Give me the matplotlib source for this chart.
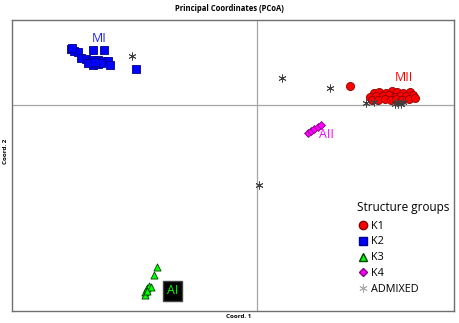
import matplotlib
matplotlib.use("Agg")
import matplotlib.pyplot as plt
from matplotlib.lines import Line2D

plt.rcParams['font.family'] = ['Open Sans', 'DejaVu Sans']

# K2 (MI) - blue squares
k2_x = [-0.379, -0.373, -0.366, -0.377, -0.335, -0.312, -0.359, -0.349, -0.342, -0.335,
        -0.325, -0.315, -0.305, -0.301, -0.335, -0.325, -0.318, -0.346, -0.330, -0.248]
k2_y = [0.113, 0.109, 0.108, 0.116, 0.111, 0.111, 0.096, 0.094, 0.089, 0.092,
        0.092, 0.089, 0.090, 0.082, 0.082, 0.084, 0.086, 0.086, 0.088, 0.074]

# K1 (MII) - red circles
k1_x = [0.189,
        0.238, 0.248, 0.261, 0.273, 0.285, 0.297, 0.310,
        0.230, 0.242, 0.255, 0.267, 0.279, 0.291, 0.303, 0.316,
        0.234, 0.246, 0.259, 0.271, 0.283, 0.295, 0.308, 0.320]
k1_y = [0.039,
        0.025, 0.027, 0.024, 0.028, 0.026, 0.024, 0.026,
        0.017, 0.019, 0.018, 0.020, 0.017, 0.019, 0.018, 0.020,
        0.010, 0.011, 0.012, 0.010, 0.012, 0.011, 0.012, 0.014]

# K3 (AI) - green triangles
k3_x = [-0.204, -0.210, -0.230, -0.224, -0.220, -0.216, -0.230, -0.226]
k3_y = [-0.330, -0.346, -0.381, -0.373, -0.369, -0.371, -0.387, -0.379]

# K4 (AII) - magenta diamonds
k4_x = [0.102, 0.109, 0.116, 0.123, 0.130]
k4_y = [-0.058, -0.054, -0.049, -0.044, -0.041]

# Admixed
ad_x = [-0.255, 0.050, 0.148, 0.004, 0.221, 0.238, 0.279, 0.287, 0.293, 0.285, 0.297]
ad_y = [0.100, 0.054, 0.034, -0.163, 0.003, 0.005, 0.002, 0.002, 0.002, 0.006, 0.006]

group_labels = ["MI", "MII", "AII", "AI"]
label_pos = [(-0.322, 0.136), (0.299, 0.055), (0.141, -0.061), (-0.173, -0.379)]
label_colors = ["#2020ff", "#ff0000", "#ff00ff", "#00ff00"]

fig = plt.figure(figsize=(4.59, 3.23), dpi=100)
ax = fig.add_axes([0.026, 0.037, 0.963, 0.901])
ax.set_xlim(-0.5, 0.4)
ax.set_ylim(-0.42, 0.173)
ax.set_xticks([])
ax.set_yticks([])
for s in ax.spines.values():
    s.set_color("#6f6f6f")
    s.set_linewidth(1.0)

ax.axvline(0, color="#a6a6a6", lw=0.9, zorder=1)
ax.axhline(0, color="#a6a6a6", lw=0.9, zorder=1)

ax.scatter(k2_x, k2_y, marker="s", s=26, c="#0000ff", edgecolors="#00008b", linewidths=0.6, zorder=3)
ax.scatter(k1_x, k1_y, marker="o", s=34, c="#ff0000", edgecolors="#8b0000", linewidths=0.6, zorder=3)
ax.scatter(k3_x, k3_y, marker="^", s=26, c="#00ff00", edgecolors="#004000", linewidths=0.6, zorder=3)
ax.scatter(k4_x, k4_y, marker="D", s=16, c="#ff00ff", edgecolors="#800080", linewidths=0.6, zorder=3)
ax.scatter(ad_x, ad_y, marker=(6, 2, 0), s=28, c="#404040", linewidths=0.6, zorder=4)

for lab, (lx, ly), col in zip(group_labels, label_pos, label_colors):
    if lab == "AI":
        ax.text(lx, ly, lab, color=col, fontsize=9, ha="center", va="center", zorder=5,
                bbox=dict(boxstyle="square,pad=0.3", fc="black", ec="#444444"))
    else:
        ax.text(lx, ly, lab, color=col, fontsize=9, ha="center", va="center", zorder=5)

handles = [
    Line2D([], [], marker="o", ls="", color="#ff0000", markeredgecolor="#8b0000", markersize=6),
    Line2D([], [], marker="s", ls="", color="#0000ff", markeredgecolor="#00008b", markersize=6),
    Line2D([], [], marker="^", ls="", color="#00ff00", markeredgecolor="#004000", markersize=6),
    Line2D([], [], marker="D", ls="", color="#ff00ff", markeredgecolor="#800080", markersize=4.5),
    Line2D([], [], marker=(6, 2, 0), ls="", color="#aaaaaa", markersize=6, markeredgewidth=0.6),
]
leg = ax.legend(handles, ["K1", "K2", "K3", "K4", "ADMIXED"], title="Structure groups",
                loc="lower left", bbox_to_anchor=(0.77, 0.04), frameon=False,
                fontsize=7.8, title_fontsize=8.5, handletextpad=0.1, labelspacing=0.45,
                borderaxespad=0, handlelength=1.2)
leg._legend_box.align = "left"
leg._legend_box.sep = 5

fig.text(0.5, 0.975, "Principal Coordinates (PCoA)", ha="center", va="center",
         fontsize=5.5, fontweight="bold")
fig.text(0.52, 0.02, "Coord. 1", ha="center", va="center", fontsize=4.5, fontweight="bold")
fig.text(0.012, 0.53, "Coord. 2", ha="center", va="center", fontsize=4.5, fontweight="bold",
         rotation=90)

fig.savefig("out.png", dpi=100)
